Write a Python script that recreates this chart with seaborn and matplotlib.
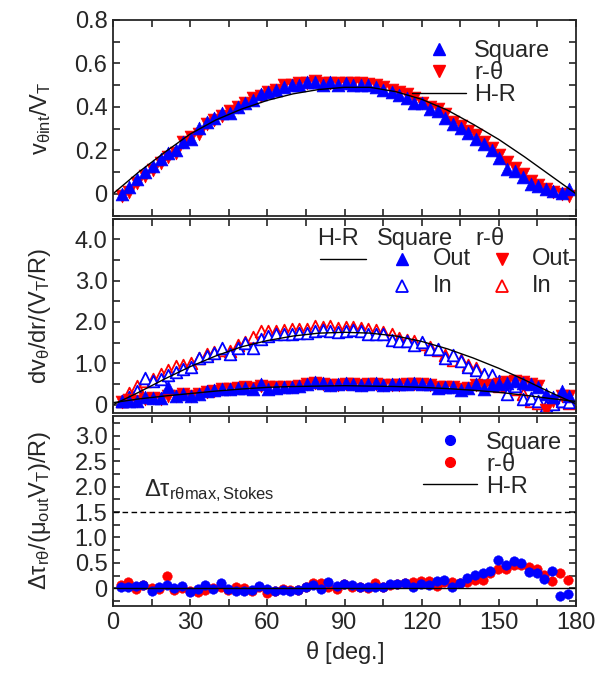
import numpy as np
import pandas as pd
import seaborn as sns
import matplotlib.pyplot as plt
from matplotlib.lines import Line2D
from matplotlib.ticker import MultipleLocator

# ---- data ----
theta = [3.4, 6.3, 9.2, 12.4, 15.4, 18.5, 21.5, 24.5, 27.3, 30.3, 33.4, 36.4, 39.4, 42.2,
         45.5, 48.5, 51.4, 54.6, 57.4, 60.4, 63.4, 66.5, 69.5, 72.4, 75.6, 78.5, 81.5, 84.4,
         87.3, 90.5, 93.4, 96.3, 99.3, 102.3, 105.1, 108.4, 111.2, 114.2, 117.2, 120.1,
         123.2, 126.2, 129.1, 132.1, 135.2, 138.2, 141.1, 144.2, 147.2, 150.2, 153.1,
         156.3, 159.3, 162.4, 165.4, 168.4, 171.2, 174.4, 177.4]

# top panel: v_theta_int / V_T
v_square = [0.0, 0.03, 0.07, 0.10, 0.13, 0.16, 0.19, 0.20, 0.24, 0.25, 0.305, 0.33, 0.35, 0.37,
            0.37, 0.40, 0.42, 0.43, 0.46, 0.47, 0.48, 0.49, 0.50, 0.50, 0.515, 0.516, 0.50, 0.515,
            0.50, 0.51, 0.50, 0.50, 0.50, 0.49, 0.48, 0.47, 0.455, 0.44, 0.42, 0.417,
            0.39, 0.38, 0.35, 0.32, 0.305, 0.28, 0.25, 0.23, 0.20, 0.165, 0.115,
            0.107, 0.076, 0.046, 0.038, 0.02, 0.015, 0.005, 0.023]
v_rtheta = [-0.01, 0.01, 0.05, 0.08, 0.11, 0.14, 0.17, 0.19, 0.24, 0.26, 0.275, 0.32, 0.34, 0.36,
            0.38, 0.40, 0.42, 0.44, 0.45, 0.47, 0.48, 0.50, 0.50, 0.51, 0.51, 0.52, 0.51, 0.51,
            0.51, 0.51, 0.51, 0.51, 0.505, 0.50, 0.49, 0.48, 0.47, 0.46, 0.44, 0.42,
            0.40, 0.39, 0.366, 0.33, 0.31, 0.29, 0.27, 0.24, 0.21, 0.18, 0.145,
            0.12, 0.09, 0.06, 0.04, 0.02, 0.01, 0.0, -0.01]
hr_theta = [0, 10, 20, 30, 40, 50, 60, 70, 80, 90, 100, 110, 120, 130, 140, 150, 160, 170, 180]
hr_v = [0.0, 0.10, 0.19, 0.275, 0.34, 0.39, 0.43, 0.46, 0.48, 0.49, 0.49, 0.47, 0.435, 0.385,
        0.32, 0.25, 0.17, 0.085, 0.0]

# middle panel: dv_theta/dr
dvdr_sq_in = [0.10, 0.19, 0.33, 0.65, 0.57, 0.61, 0.73, 0.80, 0.87, 0.91, 1.14, 1.18, 1.26, 1.36,
              1.22, 1.37, 1.48, 1.37, 1.59, 1.66, 1.71, 1.70, 1.71, 1.74, 1.74, 1.79, 1.81, 1.79,
              1.75, 1.79, 1.81, 1.77, 1.71, 1.71, 1.70, 1.57, 1.55, 1.53, 1.44, 1.52,
              1.34, 1.34, 1.14, 1.20, 1.06, 0.92, 0.84, 0.74, 0.73, 0.57, 0.25,
              0.45, 0.13, 0.16, 0.09, -0.02, 0.02, 0.08, 0.06]
dvdr_rt_in = [0.08, 0.28, 0.45, 0.58, 0.62, 0.75, 0.83, 0.93, 0.97, 1.00, 1.14, 1.22, 1.28, 1.33,
              1.30, 1.45, 1.52, 1.63, 1.78, 1.78, 1.78, 1.80, 1.82, 1.82, 1.82, 1.90, 1.88, 1.90,
              1.85, 1.87, 1.87, 1.85, 1.82, 1.80, 1.75, 1.70, 1.62, 1.57, 1.55, 1.47,
              1.40, 1.33, 1.20, 1.08, 1.08, 0.95, 0.88, 0.72, 0.62, 0.45, 0.48,
              0.38, 0.25, 0.10, 0.05, -0.05, 0.03, 0.10, 0.05]
dvdr_sq_out = [0.10, 0.10, 0.10, 0.19, 0.17, 0.16, 0.43, 0.21, 0.25, 0.21, 0.25, 0.32, 0.35, 0.39,
               0.39, 0.41, 0.41, 0.39, 0.49, 0.39, 0.41, 0.43, 0.43, 0.45, 0.51, 0.54, 0.53, 0.47,
               0.49, 0.53, 0.49, 0.47, 0.49, 0.53, 0.47, 0.49, 0.49, 0.51, 0.53, 0.51,
               0.49, 0.41, 0.43, 0.43, 0.35, 0.41, 0.49, 0.39, 0.47, 0.49, 0.53,
               0.57, 0.53, 0.49, 0.43, 0.27, 0.19, 0.33, 0.21]
dvdr_rt_out = [0.07, 0.12, 0.08, 0.15, 0.17, 0.15, 0.22, 0.20, 0.25, 0.22, 0.25, 0.30, 0.33, 0.38,
               0.38, 0.40, 0.42, 0.40, 0.45, 0.42, 0.42, 0.44, 0.43, 0.45, 0.50, 0.53, 0.50, 0.48,
               0.48, 0.50, 0.50, 0.48, 0.50, 0.50, 0.47, 0.48, 0.48, 0.50, 0.50, 0.50,
               0.48, 0.43, 0.42, 0.42, 0.38, 0.40, 0.47, 0.45, 0.48, 0.50, 0.55,
               0.57, 0.55, 0.50, 0.45, -0.12, 0.10, 0.22, 0.20]
hr_dvdr_in = [0.0, 0.30, 0.62, 0.92, 1.18, 1.40, 1.55, 1.66, 1.73, 1.75, 1.73, 1.66, 1.53, 1.35,
              1.13, 0.88, 0.60, 0.30, 0.02]
hr_dvdr_out = [0.05, 0.14, 0.21, 0.27, 0.33, 0.38, 0.42, 0.44, 0.45, 0.46, 0.45, 0.44, 0.42, 0.39,
               0.35, 0.30, 0.23, 0.15, 0.08]

# bottom panel: shear stress difference
theta_tau = [3.0, 6.0, 8.9, 11.8, 15.0, 18.0, 20.9, 23.7, 27.0, 29.9, 32.9, 35.9, 39.0, 41.8,
             44.8, 47.8, 50.9, 53.9, 56.9, 60.0, 63.0, 66.0, 69.0, 72.0, 75.0, 77.8, 80.7, 83.7,
             86.9, 89.9, 92.9, 96.0, 99.0, 101.8, 104.8, 107.7, 110.6, 113.7, 116.7, 119.7,
             122.8, 125.8, 128.8, 131.8, 134.8, 137.8, 140.9, 143.9, 146.7, 149.7, 152.7,
             155.8, 158.8, 161.8, 164.7, 167.7, 170.7, 173.8, 176.8]
tau_square = [0.03, 0.03, 0.045, 0.06, -0.06, 0.03, 0.06, 0.0, 0.05, -0.08, -0.01, 0.06, -0.02, 0.11,
              -0.02, -0.06, -0.06, -0.03, 0.045, -0.01, -0.06, -0.03, -0.05, -0.03, 0.02, 0.06, -0.02,
              0.13, 0.045, 0.08, 0.06, 0.03, 0.02, 0.03, 0.03, 0.08, 0.08, 0.10, 0.03, 0.08,
              0.06, 0.15, 0.17, 0.03, 0.10, 0.21, 0.26, 0.29, 0.34, 0.56, 0.46,
              0.53, 0.49, 0.32, 0.30, 0.19, 0.33, -0.16, -0.11]
tau_rtheta = [0.06, 0.115, -0.02, 0.06, 0.0, -0.02, 0.24, -0.03, 0.0, -0.06, -0.08, -0.03, 0.0, 0.02,
              -0.03, 0.03, 0.01, -0.05, 0.03, -0.10, -0.05, -0.02, -0.03, -0.03, 0.03, 0.10, 0.10,
              0.02, -0.02, 0.08, 0.03, 0.03, 0.0, 0.10, 0.03, 0.06, 0.08, 0.10, 0.13, 0.15,
              0.15, 0.05, 0.13, 0.13, 0.10, 0.13, 0.16, 0.17, 0.29, 0.38, 0.38,
              0.46, 0.45, 0.42, 0.37, 0.26, 0.14, 0.30, 0.17]
hr_tau_theta = [0, 180]
hr_tau = [0.0, 0.0]
tau_stokes = 1.5

BLUE = '#0000ff'
RED = '#ff0000'

sns.set_style('ticks')
plt.rcParams['font.family'] = ['Liberation Sans', 'DejaVu Sans']
plt.rcParams['mathtext.fontset'] = 'custom'
plt.rcParams['mathtext.rm'] = 'Liberation Sans'
plt.rcParams['mathtext.it'] = 'Liberation Sans'
plt.rcParams['mathtext.default'] = 'regular'
plt.rcParams['axes.linewidth'] = 1.3
FS = 17

fig = plt.figure(figsize=(5.99, 6.75), dpi=100)
L, W = 113 / 599, 463 / 599
def panel(top_px, bot_px):
    return fig.add_axes([L, 1 - bot_px / 675, W, (bot_px - top_px) / 675])

ax1 = panel(20, 215.5)
ax2 = panel(218.5, 413)
ax3 = panel(415.5, 606)

# top
sns.lineplot(x=hr_theta, y=hr_v, ax=ax1, color='black', lw=1.0)
sns.scatterplot(x=theta, y=v_rtheta, ax=ax1, marker='v', s=85, color=RED, edgecolor=RED, linewidth=0.5)
sns.scatterplot(x=theta, y=v_square, ax=ax1, marker='^', s=85, color=BLUE, edgecolor=BLUE, linewidth=0.5)
ax1.set_ylim(-0.1, 0.8)
ax1.set_yticks([0, 0.2, 0.4, 0.6, 0.8], ['0', '0.2', '0.4', '0.6', '0.8'])
ax1.yaxis.set_minor_locator(MultipleLocator(0.1))
ax1.set_ylabel(r'$v_{\theta int}/V_T$', fontsize=FS)
h1 = [Line2D([], [], ls='', marker='^', ms=9, color=BLUE),
      Line2D([], [], ls='', marker='v', ms=9, color=RED),
      Line2D([], [], color='black', lw=1.0)]
ax1.legend(h1, ['Square', r'r-$\theta$', 'H-R'], loc='upper right', frameon=False, fontsize=FS,
           handlelength=2.3, handletextpad=0.35, labelspacing=0.0, borderaxespad=0.2,
           bbox_to_anchor=(0.975, 0.97))

# middle
sns.lineplot(x=hr_theta, y=hr_dvdr_in, ax=ax2, color='black', lw=1.0)
sns.lineplot(x=hr_theta, y=hr_dvdr_out, ax=ax2, color='black', lw=1.0)
sns.scatterplot(x=theta, y=dvdr_rt_in, ax=ax2, marker='^', s=70, color='white', edgecolor=RED, linewidth=1.3)
sns.scatterplot(x=theta, y=dvdr_sq_in, ax=ax2, marker='^', s=70, color='white', edgecolor=BLUE, linewidth=1.3)
sns.scatterplot(x=theta, y=dvdr_rt_out, ax=ax2, marker='v', s=85, color=RED, edgecolor=RED, linewidth=0.5)
sns.scatterplot(x=theta, y=dvdr_sq_out, ax=ax2, marker='^', s=85, color=BLUE, edgecolor=BLUE, linewidth=0.5)
ax2.set_ylim(-0.2, 4.5)
ax2.set_yticks([0, 1, 2, 3, 4], ['0', '1.0', '2.0', '3.0', '4.0'])
ax2.yaxis.set_minor_locator(MultipleLocator(0.5))
ax2.set_ylabel(r'$dv_{\theta}/dr/(V_T/R)$', fontsize=FS)
# table-like legend
tr = ax2.transAxes
ax2.text(0.486, 0.893, 'H-R', transform=tr, ha='center', va='center', fontsize=FS)
ax2.text(0.652, 0.893, 'Square', transform=tr, ha='center', va='center', fontsize=FS)
ax2.text(0.814, 0.893, r'r-$\theta$', transform=tr, ha='center', va='center', fontsize=FS)
ax2.add_line(Line2D([0.447, 0.546], [0.79, 0.79], transform=tr, color='black', lw=1.0))
ax2.add_line(Line2D([0.624], [0.79], transform=tr, ls='', marker='^', ms=9, color=BLUE))
ax2.add_line(Line2D([0.624], [0.653], transform=tr, ls='', marker='^', ms=8, mfc='white', mec=BLUE, mew=1.3))
ax2.add_line(Line2D([0.840], [0.79], transform=tr, ls='', marker='v', ms=9, color=RED))
ax2.add_line(Line2D([0.840], [0.653], transform=tr, ls='', marker='^', ms=8, mfc='white', mec=RED, mew=1.3))
for xx in (0.691, 0.905):
    ax2.text(xx, 0.79, 'Out', transform=tr, ha='left', va='center', fontsize=FS)
    ax2.text(xx, 0.653, 'In', transform=tr, ha='left', va='center', fontsize=FS)

# bottom
sns.lineplot(x=hr_tau_theta, y=hr_tau, ax=ax3, color='black', lw=1.0)
ax3.axhline(tau_stokes, color='black', lw=1.0, ls='--', dashes=(4, 2.5))
sns.scatterplot(x=theta_tau, y=tau_rtheta, ax=ax3, marker='o', s=48, color=RED, edgecolor=RED, linewidth=0.3)
sns.scatterplot(x=theta_tau, y=tau_square, ax=ax3, marker='o', s=48, color=BLUE, edgecolor=BLUE, linewidth=0.3)
ax3.text(12, 1.93, r'$\Delta\tau_{r\theta max,Stokes}$', fontsize=FS, ha='left', va='center')
ax3.set_ylim(-0.35, 3.4)
ax3.set_yticks([0, 0.5, 1, 1.5, 2, 2.5, 3], ['0', '0.5', '1.0', '1.5', '2.0', '2.5', '3.0'])
ax3.yaxis.set_minor_locator(MultipleLocator(0.25))
ax3.set_ylabel(r'$\Delta\tau_{r\theta}/(\mu_{out}V_T)/R)$', fontsize=FS)
h3 = [Line2D([], [], ls='', marker='o', ms=7, color=BLUE),
      Line2D([], [], ls='', marker='o', ms=7, color=RED),
      Line2D([], [], color='black', lw=1.0)]
ax3.legend(h3, ['Square', r'r-$\theta$', 'H-R'], loc='upper right', frameon=False, fontsize=FS,
           handlelength=2.3, handletextpad=0.35, labelspacing=0.0, borderaxespad=0.2,
           bbox_to_anchor=(1.0, 0.99))
ax3.set_xlabel(r'$\theta$ [deg.]', fontsize=FS)

for ax in (ax1, ax2, ax3):
    ax.set_xlim(0, 180)
    ax.set_xticks([0, 30, 60, 90, 120, 150, 180])
    ax.xaxis.set_minor_locator(MultipleLocator(15))
    ax.tick_params(which='both', direction='in', top=True, right=True, length=5, width=1.2,
                   labelsize=FS, pad=4)
    ax.yaxis.set_label_coords(-0.13, 0.5)
    if ax is not ax3:
        ax.tick_params(labelbottom=False)

fig.savefig('out.png', dpi=100)
